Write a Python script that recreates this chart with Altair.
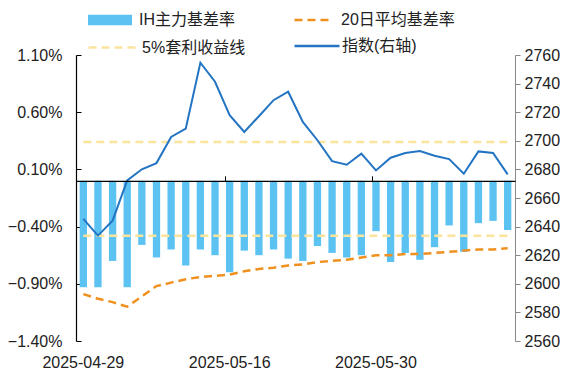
import altair as alt
import pandas as pd

dates = ["2025-04-29","2025-04-30","2025-05-06","2025-05-07","2025-05-08","2025-05-09",
         "2025-05-12","2025-05-13","2025-05-14","2025-05-15","2025-05-16",
         "2025-05-19","2025-05-20","2025-05-21","2025-05-22","2025-05-23",
         "2025-05-26","2025-05-27","2025-05-28","2025-05-29","2025-05-30",
         "2025-06-03","2025-06-04","2025-06-05","2025-06-06",
         "2025-06-09","2025-06-10","2025-06-11","2025-06-12","2025-06-13"]

# IH main contract basis rate (%)
basis = [-0.93,-0.93,-0.70,-0.93,-0.56,-0.67,-0.60,-0.74,-0.60,-0.65,
         -0.80,-0.61,-0.65,-0.60,-0.68,-0.70,-0.57,-0.63,-0.67,-0.65,
         -0.44,-0.71,-0.63,-0.69,-0.58,-0.39,-0.62,-0.37,-0.35,-0.43]
# 20-day average basis rate (%)
avg20 = [-0.99,-1.03,-1.06,-1.10,-1.01,-0.92,-0.89,-0.86,-0.84,-0.83,
         -0.82,-0.79,-0.77,-0.76,-0.74,-0.73,-0.71,-0.70,-0.69,-0.67,
         -0.65,-0.65,-0.64,-0.64,-0.63,-0.62,-0.61,-0.60,-0.60,-0.59]
# index (right axis)
index_vals = [2645.4,2633.7,2644.2,2672.3,2680.1,2684.4,2702.7,2708.5,2754.6,2741.3,
              2717.9,2706.2,2717.2,2728.4,2734.3,2713.2,2700.4,2685.8,2683.3,2691.0,
              2679.3,2688.2,2691.5,2692.9,2689.6,2687.2,2677.0,2692.6,2691.5,2676.5]
# 5% arbitrage yield lines (%)
arb_levels = [0.34, -0.48]

left_ticks = [-1.40, -0.90, -0.40, 0.10, 0.60, 1.10]
right_ticks = list(range(2560, 2761, 20))
x_labels = [dates[0], dates[10], dates[20]]
x_zero_ticks = [dates[10], dates[20]]

names = ["IH主力基差率", "20日平均基差率", "5%套利收益线", "指数(右轴)"]

W, H = 439, 286
YDOM = [-0.014, 0.011]
FONT = "Liberation Sans, Arial, Noto Sans CJK SC"
zero_px = H * YDOM[1] / (YDOM[1] - YDOM[0])

df = pd.DataFrame({
    "date": dates,
    "basis": [v / 100 for v in basis],
    "avg": [v / 100 for v in avg20],
    "idx": index_vals,
})
arb_df = pd.DataFrame({
    "date": dates * len(arb_levels),
    "arb": [lv / 100 for lv in arb_levels for _ in dates],
    "grp": [i for i in range(len(arb_levels)) for _ in dates],
})

xscale = alt.Scale(paddingInner=0.5, paddingOuter=0.25)
yscale = alt.Scale(domain=YDOM, nice=False, zero=False)
lvals = [v / 100 for v in left_ticks]

def leg(x, y, **kw):
    base = dict(orient="none", legendX=x, legendY=y, title=None, padding=0,
                labelFontSize=16, labelFont=FONT, labelColor="#222")
    base.update(kw)
    return alt.Legend(**base)

bars = alt.Chart(df).transform_calculate(s=f"'{names[0]}'").mark_bar().encode(
    x=alt.X("date:O", sort=None, scale=xscale,
            axis=alt.Axis(values=x_labels, labelAngle=0, domain=False, ticks=False,
                          title=None, labelFontSize=16, labelFont=FONT, labelColor="#222",
                          labelPadding=13)),
    y=alt.Y("basis:Q", scale=yscale,
            axis=alt.Axis(values=lvals, format=".2%", ticks=False, domainColor="black",
                          domainWidth=1.2, labelPadding=14, title=None, grid=False,
                          labelFontSize=16, labelFont=FONT, labelColor="#222")),
    color=alt.Color("s:N", scale=alt.Scale(range=["#5CC2F2"]),
                    legend=leg(12, -57, symbolType="M-1,-0.24H1V0.24H-1Z", symbolSize=1936,
                               symbolStrokeWidth=0, labelOffset=7)),
)

avg_line = alt.Chart(df).transform_calculate(s=f"'{names[1]}'").mark_line(
    strokeDash=[8, 5], strokeWidth=2.5).encode(
    x=alt.X("date:O", sort=None, scale=xscale,
            axis=alt.Axis(orient="top", offset=-zero_px, values=x_zero_ticks, bandPosition=0,
                          labels=False, ticks=True, tickSize=5, tickColor="black",
                          domain=True, domainColor="black", domainWidth=1.2, title=None,
                          zindex=1)),
    y=alt.Y("avg:Q", scale=yscale, axis=None),
    color=alt.Color("s:N", scale=alt.Scale(range=["#F0901E"]),
                    legend=leg(217, -56, symbolType="stroke", symbolSize=1521,
                               symbolDash=[8, 5], symbolStrokeWidth=2.5, labelOffset=6)),
)

arb_line = alt.Chart(arb_df).transform_calculate(s=f"'{names[2]}'").mark_line(
    strokeDash=[8, 5], strokeWidth=2.5).encode(
    x=alt.X("date:O", sort=None, scale=xscale, axis=None),
    y=alt.Y("arb:Q", scale=yscale,
            axis=alt.Axis(orient="right", offset=-W, values=lvals, labels=False,
                          domain=False, ticks=True, tickSize=5, tickColor="black",
                          title=None, grid=False)),
    detail="grp:N",
    color=alt.Color("s:N", scale=alt.Scale(range=["#FCE49C"]),
                    legend=leg(11, -33, symbolType="stroke", symbolSize=2304,
                               symbolDash=[8, 5], symbolStrokeWidth=2.5, labelOffset=4)),
)

idx_line = alt.Chart(df).transform_calculate(s=f"'{names[3]}'").mark_line(
    strokeWidth=2).encode(
    x=alt.X("date:O", sort=None, scale=xscale, axis=None),
    y=alt.Y("idx:Q", scale=alt.Scale(domain=[2560, 2760], nice=False, zero=False),
            axis=alt.Axis(orient="right", values=right_ticks, format="d", tickSize=5,
                          tickColor="#888", domainColor="#888", labelPadding=4,
                          title=None, grid=False, labelFontSize=16, labelFont=FONT,
                          labelColor="#222")),
    color=alt.Color("s:N", scale=alt.Scale(range=["#2374C2"]),
                    legend=leg(217, -33, symbolType="stroke", symbolSize=2025,
                               symbolStrokeWidth=2.5, labelOffset=1)),
)

chart = alt.layer(bars, arb_line, avg_line, idx_line).resolve_scale(
    y="independent", color="independent"
).resolve_axis(x="independent").properties(
    width=W, height=H,
    autosize=alt.AutoSizeParams(type="none"),
    padding={"left": 68, "top": 47, "right": 47, "bottom": 34},
    background="white",
).configure_view(stroke=None)

chart.save("out.html", embed_options={"renderer": "svg", "actions": False})
